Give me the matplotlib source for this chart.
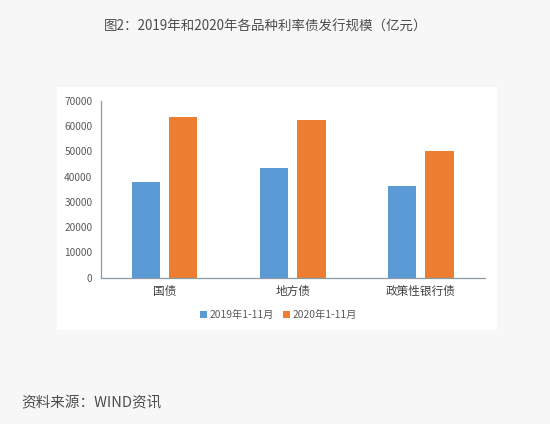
import matplotlib
matplotlib.use("Agg")
import matplotlib.pyplot as plt
import numpy as np

plt.rcParams['font.family'] = ['Noto Sans CJK SC', 'DejaVu Sans']

categories = ["国债", "地方债", "政策性银行债"]
series_names = ["2019年1-11月", "2020年1-11月"]
values_2019 = [38000, 43400, 36300]
values_2020 = [63400, 62400, 50100]
yticks = [0, 10000, 20000, 30000, 40000, 50000, 60000, 70000]
title = "图2：2019年和2020年各品种利率债发行规模（亿元）"
source = "资料来源：WIND资讯"

W, H = 550, 424
fig = plt.figure(figsize=(W / 100, H / 100), dpi=100)
fig.patch.set_facecolor("#f7f7f7")

# white chart panel
bg = fig.add_axes([57 / W, 1 - 330 / H, 440 / W, 243 / H])
bg.set_facecolor("white")
bg.set_xticks([])
bg.set_yticks([])
for s in bg.spines.values():
    s.set_visible(False)
bg.set_zorder(0)

ax = fig.add_axes([100.7 / W, 1 - 277.7 / H, 384.3 / W, 177 / H])
ax.set_facecolor("none")
ax.set_zorder(1)

x = np.arange(len(categories))
w = 0.22
off = 0.145
b1 = ax.bar(x - off, values_2019, w, color="#5B9BD5", label=series_names[0], zorder=2)
b2 = ax.bar(x + off, values_2020, w, color="#ED7D31", label=series_names[1], zorder=2)

ax.set_xlim(-0.5, 2.5)
ax.set_ylim(0, 70000)
ax.set_yticks(yticks)
ax.set_yticklabels([str(v) for v in yticks], fontsize=7.3, color="#595959")
ax.set_xticks(x)
ax.set_xticklabels(categories, fontsize=8.4, color="#404040")
ax.tick_params(axis="both", length=0)
ax.tick_params(axis="y", pad=6)
ax.tick_params(axis="x", pad=5)
for s in ["top", "right"]:
    ax.spines[s].set_visible(False)
for s in ["left", "bottom"]:
    ax.spines[s].set_color("#8a9aa6")
    ax.spines[s].set_linewidth(0.9)

leg = fig.legend(handles=[b1, b2], labels=series_names, loc="center",
                 bbox_to_anchor=(278.5 / W, 1 - 315 / H), ncol=2, frameon=False,
                 fontsize=7.4, handlelength=0.7, handleheight=0.7,
                 handletextpad=0.3, columnspacing=0.8)
leg.set_zorder(3)
for t in leg.get_texts():
    t.set_color("#595959")

fig.text(266 / W, 1 - 27 / H, title, ha="center", va="center",
         fontsize=9.7, color="#4d4d4d")
fig.text(21 / W, 1 - 403 / H, source, ha="left", va="center",
         fontsize=10.5, color="#4d4d4d")

fig.savefig("out.png", dpi=100, facecolor=fig.get_facecolor())
